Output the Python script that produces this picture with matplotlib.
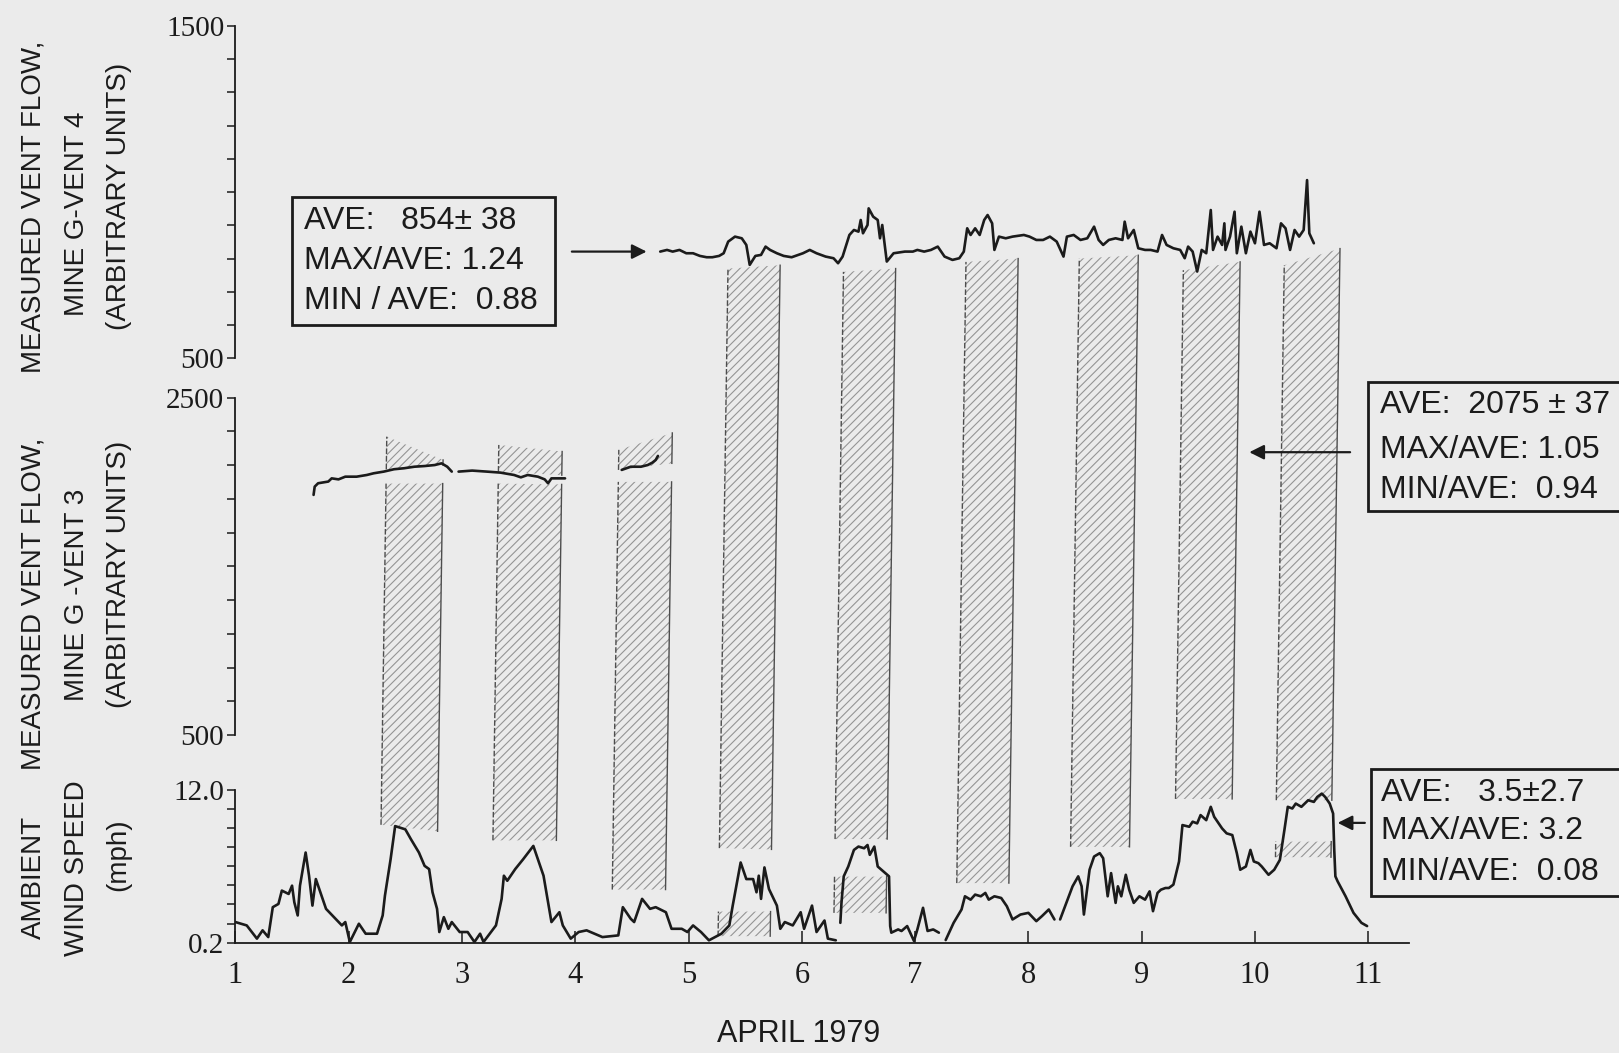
import numpy as np
import matplotlib
matplotlib.use("Agg")
import matplotlib.pyplot as plt
from matplotlib.patches import Polygon, Rectangle

# ---- values ----
DAYS = [1, 2, 3, 4, 5, 6, 7, 8, 9, 10, 11]

# ambient wind speed (mph), four recorded pieces
WIND_DAY_A = [1.00, 1.10, 1.19, 1.24, 1.29, 1.33, 1.38, 1.41, 1.47, 1.50,
              1.52, 1.55, 1.57, 1.62, 1.65, 1.68, 1.71, 1.75, 1.80, 1.87,
              1.94, 1.97, 2.01, 2.09, 2.15, 2.25, 2.30, 2.32, 2.37, 2.41,
              2.50, 2.55, 2.62, 2.67, 2.71, 2.74, 2.78, 2.80, 2.84, 2.88,
              2.91, 2.98, 3.05, 3.11, 3.16, 3.19, 3.30, 3.35, 3.37, 3.40,
              3.47, 3.54, 3.63, 3.68, 3.72, 3.75, 3.79, 3.86, 3.89, 3.96,
              4.03, 4.10, 4.17, 4.24, 4.38, 4.42, 4.49, 4.52, 4.59, 4.66,
              4.71, 4.80, 4.85, 4.94, 4.99, 5.04, 5.11, 5.18, 5.29, 5.36,
              5.39, 5.46, 5.51, 5.57, 5.60, 5.62, 5.64, 5.67, 5.71, 5.78,
              5.81, 5.85, 5.92, 5.99, 6.02, 6.09, 6.13, 6.20, 6.23, 6.30]
WIND_MPH_A = [1.79, 1.53, 0.51, 1.15, 0.63, 2.94, 3.19, 4.22, 3.96, 4.60,
              3.32, 2.30, 4.60, 7.16, 5.37, 3.06, 5.11, 4.09, 2.81, 2.17,
              1.53, 1.79, 0.25, 1.66, 0.89, 0.89, 2.30, 3.83, 6.64, 9.20,
              8.95, 8.18, 7.16, 6.13, 5.88, 4.09, 2.81, 1.02, 2.17, 1.27,
              1.79, 1.02, 1.02, 0.25, 0.89, 0.25, 1.53, 3.58, 5.37, 4.98,
              5.88, 6.64, 7.67, 6.39, 5.37, 3.83, 1.79, 2.55, 1.53, 0.51,
              1.02, 1.15, 0.89, 0.63, 0.76, 2.94, 2.04, 1.79, 3.58, 2.81,
              2.94, 2.55, 1.27, 1.27, 1.02, 1.53, 1.02, 0.38, 0.89, 1.53,
              3.06, 6.39, 5.11, 5.11, 4.09, 5.37, 3.58, 6.01, 4.34, 3.06,
              1.27, 1.79, 1.53, 2.55, 1.27, 3.06, 1.02, 1.91, 0.51, 0.38]
WIND_DAY_B = [6.34, 6.35, 6.37, 6.41, 6.46, 6.50, 6.55, 6.58, 6.60, 6.64,
              6.67, 6.72, 6.77, 6.78, 6.79, 6.85, 6.88, 6.93, 6.99, 7.02,
              7.07, 7.11, 7.16, 7.21]
WIND_MPH_B = [1.73, 3.27, 5.32, 6.08, 7.36, 7.62, 7.49, 7.74, 6.98, 7.62,
              6.08, 5.70, 5.32, 1.48, 0.97, 1.22, 1.10, 1.48, 0.33, 1.22,
              2.89, 1.10, 1.22, 0.97]
WIND_DAY_C = [7.27, 7.34, 7.41, 7.44, 7.49, 7.53, 7.58, 7.62, 7.65, 7.70,
              7.76, 7.81, 7.86, 7.93, 8.00, 8.07, 8.12, 8.18, 8.23]
WIND_MPH_C = [0.40, 1.73, 2.76, 3.78, 3.52, 3.91, 3.78, 4.04, 3.52, 3.78,
              3.65, 3.01, 1.99, 2.37, 2.50, 1.86, 2.25, 2.76, 1.99]
WIND_DAY_D = [8.28, 8.39, 8.44, 8.47, 8.49, 8.54, 8.58, 8.63, 8.66, 8.70,
              8.73, 8.77, 8.79, 8.82, 8.86, 8.89, 8.93, 8.98, 9.03, 9.07,
              9.10, 9.14, 9.17, 9.21, 9.24, 9.28, 9.33, 9.36, 9.42, 9.45,
              9.49, 9.52, 9.57, 9.61, 9.64, 9.71, 9.75, 9.80, 9.84, 9.87,
              9.92, 9.96, 9.99, 10.03, 10.06, 10.12, 10.17, 10.22, 10.26, 10.29,
              10.33, 10.36, 10.41, 10.47, 10.52, 10.55, 10.59, 10.62, 10.66, 10.69,
              10.70, 10.71, 10.73, 10.80, 10.87, 10.94, 10.99]
WIND_MPH_D = [1.99, 4.55, 5.32, 4.55, 2.37, 5.83, 6.85, 7.11, 6.72, 3.78,
              5.57, 3.27, 4.55, 3.78, 5.44, 4.29, 3.27, 3.78, 3.52, 4.16,
              2.63, 4.04, 4.29, 4.42, 4.42, 4.68, 6.47, 9.28, 9.15, 9.54,
              9.41, 10.05, 9.66, 10.69, 9.92, 9.02, 8.64, 8.51, 7.11, 5.83,
              6.08, 7.36, 6.47, 6.34, 6.08, 5.44, 5.83, 6.59, 8.90, 10.69,
              10.56, 10.94, 10.69, 11.20, 11.07, 11.45, 11.71, 11.45, 10.94, 10.17,
              7.36, 5.32, 4.93, 3.78, 2.50, 1.73, 1.48]

# vent 3 flow (arbitrary units), three pieces
VENT3_DAY_A = [1.69, 1.70, 1.73, 1.82, 1.85, 1.91, 1.97, 2.07, 2.16, 2.22,
               2.31, 2.40, 2.49, 2.58, 2.67, 2.76, 2.82, 2.87, 2.91]
VENT3_VAL_A = [1923, 1972, 1992, 2002, 2021, 2015, 2031, 2031, 2041, 2051,
               2061, 2075, 2081, 2090, 2094, 2100, 2110, 2090, 2061]
VENT3_DAY_B = [2.97, 3.09, 3.22, 3.34, 3.46, 3.52, 3.58, 3.67, 3.73, 3.76, 3.79, 3.91]
VENT3_VAL_B = [2061, 2067, 2061, 2055, 2041, 2027, 2041, 2031, 2015, 1992, 2021, 2021]
VENT3_DAY_C = [4.41, 4.49, 4.58, 4.64, 4.68, 4.71, 4.73]
VENT3_VAL_C = [2071, 2090, 2090, 2100, 2114, 2130, 2154]

# vent 4 flow (arbitrary units)
VENT4_DAY = [4.75, 4.81, 4.86, 4.92, 4.98, 5.04, 5.10, 5.16, 5.21, 5.27,
             5.31, 5.35, 5.41, 5.47, 5.51, 5.54, 5.59, 5.64, 5.68, 5.72,
             5.78, 5.84, 5.91, 6.01, 6.07, 6.13, 6.21, 6.28, 6.32, 6.36,
             6.42, 6.46, 6.50, 6.52, 6.54, 6.58, 6.59, 6.63, 6.67, 6.69,
             6.71, 6.75, 6.81, 6.91, 6.98, 7.02, 7.08, 7.14, 7.20, 7.26,
             7.33, 7.39, 7.43, 7.46, 7.49, 7.53, 7.57, 7.61, 7.64, 7.68,
             7.70, 7.74, 7.80, 7.86, 7.96, 8.01, 8.07, 8.13, 8.19, 8.25,
             8.31, 8.34, 8.40, 8.46, 8.52, 8.58, 8.62, 8.66, 8.71, 8.77,
             8.83, 8.85, 8.88, 8.93, 8.97, 9.03, 9.08, 9.14, 9.18, 9.22,
             9.28, 9.34, 9.38, 9.41, 9.45, 9.49, 9.53, 9.57, 9.61, 9.63,
             9.67, 9.71, 9.73, 9.74, 9.78, 9.82, 9.84, 9.88, 9.92, 9.96,
             10.00, 10.04, 10.08, 10.13, 10.19, 10.23, 10.27, 10.31, 10.35, 10.39,
             10.43, 10.46, 10.48, 10.52]
VENT4_VAL = [821, 826, 821, 826, 816, 816, 808, 804, 804, 808,
             816, 851, 866, 861, 841, 781, 808, 811, 836, 826,
             816, 808, 804, 816, 826, 816, 806, 801, 786, 806,
             871, 886, 881, 916, 876, 901, 951, 926, 916, 861,
             901, 791, 816, 821, 821, 826, 821, 826, 836, 806,
             796, 801, 821, 891, 871, 891, 871, 916, 931, 906,
             826, 866, 861, 866, 871, 866, 856, 856, 866, 851,
             806, 866, 871, 856, 861, 896, 856, 841, 856, 861,
             856, 911, 861, 886, 831, 826, 826, 821, 871, 841,
             831, 826, 801, 836, 821, 761, 826, 816, 946, 826,
             866, 841, 906, 826, 866, 941, 816, 896, 816, 881,
             846, 941, 841, 846, 831, 906, 891, 826, 886, 866,
             886, 1036, 876, 846]

# shaded periods: start/end day, hatch top (vent units) and bottom (mph)
BAND_START = [2.33, 3.32, 4.38, 5.32, 6.34, 7.42, 8.42, 9.34, 10.23]
BAND_END = [2.83, 3.88, 4.85, 5.78, 6.80, 7.88, 8.94, 9.84, 10.72]
BAND_TOP_L = [1990, 1990, 2000, 770, 760, 790, 800, 765, 780]
BAND_TOP_R = [1990, 1985, 2000, 780, 770, 800, 810, 790, 830]
BAND_LOW_L = [9.3, 8.1, 4.3, 7.5, 8.2, 4.8, 7.6, 11.3, 11.2]
BAND_LOW_R = [8.8, 8.1, 4.3, 7.4, 8.2, 4.8, 7.6, 11.3, 11.2]
# hatch above the vent 3 trace (first three periods)
CAP_TOP_L = [2268, 2219, 2190]
CAP_TOP_R = [2130, 2180, 2290]
CAP_BASE_L = [2075, 2061, 2071]
CAP_BASE_R = [2100, 2040, 2110]
# hatch below the wind trace
LOWER_BAND = [3, 4, 8]
LOWER_TOP = [2.6, 5.3, 8.0]
LOWER_BOTTOM = [0.7, 2.5, 6.8]

# statistics printed in the three boxes
STATS_VENT4 = ["AVE:   854\u00b1 38", "MAX/AVE: 1.24", "MIN / AVE:  0.88"]
STATS_VENT3 = ["AVE:  2075 \u00b1 37", "MAX/AVE: 1.05", "MIN/AVE:  0.94"]
STATS_WIND = ["AVE:   3.5\u00b12.7", "MAX/AVE: 3.2", "MIN/AVE:  0.08"]

# ---- style ----
BG = "#ebebeb"
INK = "#1b1b1b"
HATCH = "#959595"
EDGE = "#4d4d4d"
SANS = ["Liberation Sans", "DejaVu Sans"]
SERIF = ["Liberation Serif", "DejaVu Serif"]

plt.rcParams["font.family"] = SERIF
plt.rcParams["hatch.linewidth"] = 0.8
plt.rcParams["hatch.color"] = HATCH

XLIM = (1.0, 11.36)
SKEW = 0.12  # the shaded strips lean slightly to the right

fig = plt.figure(figsize=(16.19, 10.53), dpi=100, facecolor=BG)
ax_w = fig.add_axes([0.1454, 0.1048, 0.7249, 0.1451])
ax_3 = fig.add_axes([0.1454, 0.3019, 0.7249, 0.3206])
ax_4 = fig.add_axes([0.1454, 0.6597, 0.7249, 0.3158])
ov = fig.add_axes([0.1454, 0.1048, 0.7249, 0.8707])
ov.set_zorder(0)
ov.set_xlim(*XLIM)
ov.set_ylim(0, 1)
ov.axis("off")

for ax in (ax_w, ax_3, ax_4):
    ax.set_zorder(2)
    ax.set_facecolor("none")
    ax.set_xlim(*XLIM)
    ax.spines["top"].set_visible(False)
    ax.spines["right"].set_visible(False)
    ax.spines["left"].set_linewidth(1.3)
    ax.spines["left"].set_color(INK)
    ax.tick_params(axis="y", which="both", direction="out", length=6,
                   width=1.1, color=INK, pad=2, labelsize=21, labelcolor=INK)

for ax in (ax_3, ax_4):
    ax.spines["bottom"].set_visible(False)
    ax.set_xticks([])

ax_w.spines["bottom"].set_linewidth(1.3)
ax_w.spines["bottom"].set_color(INK)
ax_w.set_xticks(DAYS)
ax_w.tick_params(axis="x", direction="in", length=9, width=1.1, color=INK,
                 pad=13, labelsize=22, labelcolor=INK)

ax_w.set_ylim(0.2, 12.0)
ax_w.set_yticks([0.2, 12.0], ["0.2", "12.0"])
ax_w.set_yticks(np.linspace(0.2, 12.0, 9), minor=True)
ax_3.set_ylim(500, 2500)
ax_3.set_yticks([500, 2500], ["500", "2500"])
ax_3.set_yticks(np.arange(500, 2501, 200), minor=True)
ax_4.set_ylim(500, 1500)
ax_4.set_yticks([500, 1500], ["500", "1500"])
ax_4.set_yticks(np.arange(500, 1501, 100), minor=True)

# ---- shaded strips, spanning the stacked axes ----
to_ov = ov.transData.inverted()


def pt(ax, x, y):
    X, Y = to_ov.transform(ax.transData.transform((x, y)))
    return X + SKEW * (Y - 0.5), Y


def hatch_piece(x0, x1, ax_top, top_l, top_r, ax_bot, bot_l, bot_r):
    bl = pt(ax_bot, x0, bot_l)
    br = pt(ax_bot, x1, bot_r)
    tr = pt(ax_top, x1, top_r)
    tl = pt(ax_top, x0, top_l)
    ov.add_patch(Polygon([bl, br, tr, tl], closed=True, fill=False,
                         hatch="////", edgecolor=HATCH, lw=0))
    ov.plot([bl[0], tl[0]], [bl[1], tl[1]], color=EDGE, lw=1.0, ls=(0, (4, 1.5)))
    ov.plot([br[0], tr[0]], [br[1], tr[1]], color=EDGE, lw=1.0)


for i in range(len(BAND_START)):
    ax_top = ax_3 if i < 3 else ax_4
    hatch_piece(BAND_START[i], BAND_END[i], ax_top, BAND_TOP_L[i], BAND_TOP_R[i],
                ax_w, BAND_LOW_L[i], BAND_LOW_R[i])

for i in range(len(CAP_TOP_L)):
    hatch_piece(BAND_START[i], BAND_END[i], ax_3, CAP_TOP_L[i], CAP_TOP_R[i],
                ax_3, CAP_BASE_L[i], CAP_BASE_R[i])

for j, i in enumerate(LOWER_BAND):
    hatch_piece(BAND_START[i], BAND_END[i], ax_w, LOWER_TOP[j], LOWER_TOP[j],
                ax_w, LOWER_BOTTOM[j], LOWER_BOTTOM[j])

# ---- traces ----
line_kw = dict(color=INK, lw=1.9, solid_joinstyle="round", solid_capstyle="round")
for d, v in ((WIND_DAY_A, WIND_MPH_A), (WIND_DAY_B, WIND_MPH_B),
             (WIND_DAY_C, WIND_MPH_C), (WIND_DAY_D, WIND_MPH_D)):
    ax_w.plot(d, v, **line_kw)
for d, v in ((VENT3_DAY_A, VENT3_VAL_A), (VENT3_DAY_B, VENT3_VAL_B),
             (VENT3_DAY_C, VENT3_VAL_C)):
    ax_3.plot(d, v, **line_kw)
ax_4.plot(VENT4_DAY, VENT4_VAL, **line_kw)

# ---- statistic boxes and arrows ----
arrow_kw = dict(arrowstyle="-|>", color=INK, lw=1.6, mutation_scale=22,
                shrinkA=0, shrinkB=0)
ax_4.annotate("", xy=(VENT4_DAY[0] - 0.12, VENT4_VAL[0]),
              xytext=(VENT4_DAY[0] - 0.78, VENT4_VAL[0]), arrowprops=arrow_kw)
ax_3.annotate("", xy=(9.95, 2176), xytext=(10.84, 2176), arrowprops=arrow_kw)
ax_w.annotate("", xy=(10.73, 9.45), xytext=(10.97, 9.45), arrowprops=arrow_kw)

box_kw = dict(transform=fig.transFigure, fc=BG, ec=INK, lw=2.0, zorder=5)
fig.add_artist(Rectangle((0.1804, 0.6913), 0.1624, 0.1216, **box_kw))
fig.add_artist(Rectangle((0.8450, 0.5150), 0.2, 0.1220, **box_kw))
fig.add_artist(Rectangle((0.8469, 0.1491), 0.2, 0.1206, **box_kw))

txt_kw = dict(family=SANS, fontsize=23, color=INK, va="center", ha="left", zorder=6)
for x, ys, lines in [
    (0.1875, [0.7900, 0.7525, 0.7140], STATS_VENT4),
    (0.8524, [0.6150, 0.5730, 0.5345], STATS_VENT3),
    (0.8533, [0.2469, 0.2108, 0.1719], STATS_WIND),
]:
    for y, s in zip(ys, lines):
        fig.text(x, y, s, **txt_kw)

# ---- axis titles ----
lab_kw = dict(family=SANS, fontsize=20, color=INK, rotation=90,
              ha="center", va="center")
for x, y, s in [
    (0.0210, 0.1666, "AMBIENT"), (0.0478, 0.1756, "WIND SPEED"), (0.0733, 0.1880, "(mph)"),
    (0.0210, 0.4264, "MEASURED VENT FLOW,"), (0.0478, 0.4352, "MINE G -VENT 3"),
    (0.0733, 0.4549, "(ARBITRARY UNITS)"),
    (0.0210, 0.8039, "MEASURED VENT FLOW,"), (0.0478, 0.7970, "MINE G-VENT 4"),
    (0.0733, 0.8137, "(ARBITRARY UNITS)"),
]:
    fig.text(x, y, s, **lab_kw)

fig.text(0.493, 0.0185, "APRIL 1979", family=SANS, fontsize=22, color=INK,
         ha="center", va="center")

fig.savefig("out.png", dpi=100, facecolor=BG)
